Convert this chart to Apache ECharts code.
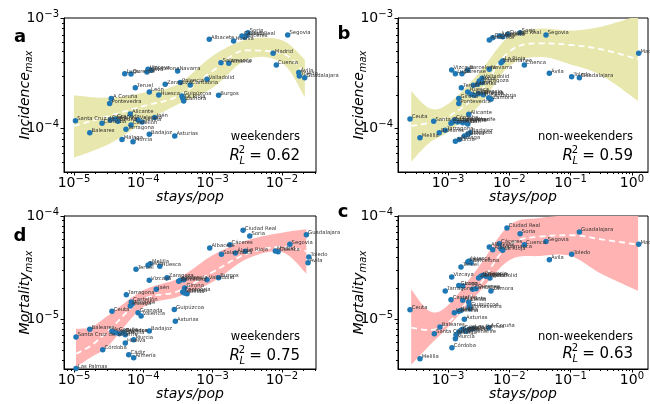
<!DOCTYPE html>
<html>
<head>
<meta charset="utf-8">
<script src="https://cdn.jsdelivr.net/npm/echarts@6.0.0/dist/echarts.min.js"></script>
<style>
  html, body { margin: 0; padding: 0; background: #fff; }
  #chart { width: 650px; height: 404px; }
</style>
</head>
<body>
<div id="chart"></div>
<script>
// ---- tick labels ----
const xTicksWk = [1e-5, 1e-4, 1e-3, 1e-2];
const xTicksNw = [1e-3, 1e-2, 1e-1, 1];
const yTicksInc = [1e-4, 1e-3];
const yTicksMor = [1e-5, 1e-4];

// ---- a: incidence, weekenders ----
const incWkNames = ['Santa Cruz de Tenerife','Baleares','A Coruña','Pontevedra','Lugo','Ourense','Teruel','Alicante','Castellón','Tarragona','Málaga','Murcia','Córdoba','Cádiz','Granada','Girona','Valencia','Sevilla','Jaén','Badajoz','Asturias','Zaragoza','León','Huesca','Guipúzcoa','Zamora','La Rioja','Palencia','Cantabria','Valladolid','Burgos','Navarra','Vizcaya','Barcelona','Álava','Albacete','Huelva','Ciudad Real','Cáceres','Lleida','Soria','Segovia','Madrid','Cuenca','Salamanca','Almería','Ávila','Toledo','Guadalajara'];
const incWkX = [1.05e-5,1.69e-5,3.45e-5,3.27e-5,5.4e-5,6.65e-5,7.67e-5,6.49e-5,6.65e-5,5.62e-5,4.93e-5,7.1e-5,2.54e-5,3.34e-5,3.94e-5,4.31e-5,8.4e-5,9.6e-5,1.46e-4,1.22e-4,2.84e-4,2.07e-4,1.22e-4,1.67e-4,3.61e-4,3.83e-4,3.71e-4,3.42e-4,4.76e-4,8.3e-4,1.22e-3,3.13e-4,1.17e-4,1.3e-4,1.13e-4,8.95e-4,2.01e-3,2.65e-3,2.9e-3,3.13e-3,3.24e-3,1.21e-2,7.45e-3,8.3e-3,1.32e-3,1.71e-3,1.75e-2,1.78e-2,2.13e-2];
const incWkY = [1.18e-4,9.2e-5,1.87e-4,1.69e-4,3.14e-4,3.12e-4,2.34e-4,1.36e-4,1.08e-4,9.9e-5,8.0e-5,7.6e-5,1.12e-4,1.2e-4,1.22e-4,1.17e-4,1.2e-4,1.15e-4,1.26e-4,8.9e-5,8.6e-5,2.52e-4,2.15e-4,2.01e-4,1.97e-4,1.78e-4,1.88e-4,2.61e-4,2.48e-4,2.79e-4,2.0e-4,3.32e-4,3.44e-4,3.37e-4,3.25e-4,6.42e-4,6.19e-4,6.87e-4,6.7e-4,6.98e-4,7.36e-4,7.02e-4,4.8e-4,3.76e-4,3.94e-4,3.9e-4,3.21e-4,2.99e-4,2.89e-4];
const incWkBandX = [1e-5, 3.16e-5, 1e-4, 3.16e-4, 1e-3, 3.16e-3, 1e-2, 2.14e-2];
const incWkHi = [2.0e-4, 1.9e-4, 2.11e-4, 2.52e-4, 4.54e-4, 6.41e-4, 6.3e-4, 4.2e-4];
const incWkLo = [5.47e-5, 7.23e-5, 1.13e-4, 1.66e-4, 2.34e-4, 4.24e-4, 3.94e-4, 1.92e-4];
const incWkFit = [1.06e-4, 1.3e-4, 1.6e-4, 1.97e-4, 3.32e-4, 5.1e-4, 4.8e-4, 3.1e-4];

// ---- b: incidence, non-weekenders ----
const incNwNames = ['Ceuta','Melilla','Santa Cruz de Tenerife','Baleares','Tarragona','Castellón','Cádiz','Córdoba','Las Palmas','Alicante','Murcia','Málaga','Huelva','Granada','Badajoz','Valencia','Sevilla','Jaén','Pontevedra','Girona','Teruel','Huesca','Lleida','Guipúzcoa','Palencia','Burgos','Cantabria','Zamora','Valladolid','Álava','León','Zaragoza','Asturias','Vizcaya','Lugo','Ourense','Barcelona','Navarra','Salamanca','La Rioja','Cuenca','Ávila','Toledo','Guadalajara','Madrid','Segovia','Soria','Albacete','Cáceres','A Coruña','Almería','Ciudad Real'];
const incNwX = [2.4e-4,3.49e-4,5.85e-4,7.2e-4,9.0e-4,1.12e-3,1.19e-3,1.27e-3,1.44e-3,2.18e-3,1.32e-3,1.53e-3,1.85e-3,2.1e-3,2.28e-3,1.74e-3,1.97e-3,2.1e-3,1.5e-3,1.5e-3,1.65e-3,2.1e-3,2.37e-3,2.69e-3,3.16e-3,3.76e-3,4.61e-3,5.02e-3,3.59e-3,3.24e-3,3.05e-3,3.59e-3,2.59e-3,1.15e-3,1.32e-3,1.69e-3,2.1e-3,4.72e-3,7.33e-3,7.8e-3,1.76e-2,4.5e-2,0.104,0.139,1.29,3.97e-2,1.5e-2,4.72e-3,5.36e-3,6.87e-3,7.8e-3,9.4e-3];
const incNwY = [1.22e-4,8.3e-5,1.17e-4,9.2e-5,9.7e-5,1.12e-4,1.15e-4,1.2e-4,1.15e-4,1.35e-4,7.7e-5,8.0e-5,8.6e-5,8.9e-5,9.2e-5,1.13e-4,1.15e-4,1.1e-4,1.69e-4,1.87e-4,2.34e-4,2.15e-4,2.05e-4,2.0e-4,2.07e-4,2.03e-4,1.9e-4,1.84e-4,2.85e-4,2.7e-4,2.52e-4,2.61e-4,2.47e-4,3.39e-4,3.14e-4,3.14e-4,3.39e-4,3.44e-4,3.94e-4,4.09e-4,3.76e-4,3.16e-4,2.95e-4,2.89e-4,4.8e-4,7.02e-4,7.36e-4,6.33e-4,6.64e-4,6.87e-4,6.78e-4,7.13e-4];
const incNwBandX = [2.51e-4, 5.01e-4, 1e-3, 3.16e-3, 1e-2, 3.16e-2, 0.1, 0.316, 1.26];
const incNwHi = [2.19e-4, 1.53e-4, 1.67e-4, 3.16e-4, 6.87e-4, 8.01e-4, 7.69e-4, 8.35e-4, 1.05e-3];
const incNwLo = [5.04e-5, 7.48e-5, 9.33e-5, 1.6e-4, 3.68e-4, 4.45e-4, 3.81e-4, 3.03e-4, 1.78e-4];
const incNwFit = [1.06e-4, 1.13e-4, 1.28e-4, 2.09e-4, 4.97e-4, 5.9e-4, 5.7e-4, 5.21e-4, 4.24e-4];

// ---- d: mortality, weekenders ----
const morWkNames = ['Las Palmas','Santa Cruz de Tenerife','Baleares','Córdoba','Ceuta','A Coruña','Pontevedra','Lugo','Ourense','Sevilla','Huelva','Murcia','Cádiz','Almería','Badajoz','Granada','Valencia','Guipúzcoa','Asturias','Tarragona','Castellón','Alicante','Málaga','Jaén','Girona','Cantabria','Zamora','Lleida','Vizcaya','Zaragoza','Barcelona','Navarra','Palencia','Valladolid','Burgos','Teruel','León','Melilla','Huesca','Albacete','Salamanca','Cáceres','Álava','La Rioja','Ciudad Real','Soria','Madrid','Cuenca','Segovia','Guadalajara','Toledo','Ávila'];
const morWkX = [1.07e-5,1.07e-5,1.69e-5,2.6e-5,3.53e-5,3.53e-5,3.94e-5,4.51e-5,5.21e-5,5.5e-5,5.5e-5,7.26e-5,6.16e-5,7.26e-5,1.22e-4,8.4e-5,9.3e-5,2.8e-4,2.9e-4,5.69e-5,6.71e-5,6.87e-5,6.49e-5,1.54e-4,3.95e-4,3.71e-4,3.95e-4,4.28e-4,1.22e-4,2.2e-4,3.24e-4,3.42e-4,3.83e-4,8.3e-4,1.22e-3,7.85e-5,1.17e-4,1.26e-4,1.73e-4,9.08e-4,1.34e-3,1.77e-3,2.13e-3,2.96e-3,2.75e-3,3.43e-3,8.03e-3,8.8e-3,1.3e-2,2.25e-2,2.44e-2,2.38e-2];
const morWkY = [3.3e-6,6.68e-6,7.94e-6,5.04e-6,1.19e-5,7.6e-6,7.36e-6,7.19e-6,7.36e-6,7.05e-6,5.85e-6,6.3e-6,4.5e-6,4.2e-6,7.64e-6,1.15e-5,1.07e-5,1.24e-5,9.5e-6,1.72e-5,1.46e-5,1.39e-5,1.34e-5,1.94e-5,2.0e-5,1.83e-5,1.79e-5,1.76e-5,2.38e-5,2.52e-5,2.32e-5,2.38e-5,2.41e-5,2.41e-5,2.52e-5,3.04e-5,3.32e-5,3.44e-5,3.25e-5,4.89e-5,4.25e-5,5.26e-5,4.38e-5,4.54e-5,7.26e-5,6.4e-5,4.57e-5,4.5e-5,5.31e-5,6.58e-5,4.0e-5,3.52e-5];
const morWkBandX = [1.07e-5, 1.78e-5, 3.16e-5, 1e-4, 3.16e-4, 1e-3, 3.16e-3, 1e-2, 2.25e-2];
const morWkHi = [8.05e-6, 8.36e-6, 1.09e-5, 1.9e-5, 2.47e-5, 4.15e-5, 5.81e-5, 6.89e-5, 7.43e-5];
const morWkLo = [3.42e-6, 4.28e-6, 5.55e-6, 1.31e-5, 1.64e-5, 2.29e-5, 3.85e-5, 4.47e-5, 2.75e-5];
const morWkFit = [4.6e-6, 5.55e-6, 7.76e-6, 1.55e-5, 1.86e-5, 2.86e-5, 4.3e-5, 5.0e-5, 4.57e-5];

// ---- c: mortality, non-weekenders ----
const morNwNames = ['Ceuta','Melilla','Santa Cruz de Tenerife','Baleares','Córdoba','Murcia','Málaga','Huelva','Granada','Cádiz','Almería','Badajoz','Las Palmas','A Coruña','Asturias','Valencia','Sevilla','Jaén','Guipúzcoa','Pontevedra','Castellón','Alicante','Lleida','Tarragona','Girona','Lugo','Cantabria','Ourense','Zamora','Vizcaya','Zaragoza','Burgos','Palencia','Navarra','Valladolid','Teruel','León','Huesca','Barcelona','Albacete','Álava','Cáceres','Salamanca','La Rioja','Ciudad Real','Soria','Cuenca','Segovia','Guadalajara','Toledo','Ávila','Madrid'];
const morNwX = [2.4e-4,3.49e-4,5.98e-4,7.4e-4,1.16e-3,1.32e-3,1.35e-3,1.5e-3,1.63e-3,1.74e-3,1.97e-3,2.22e-3,2.59e-3,4.61e-3,1.85e-3,1.27e-3,1.5e-3,1.63e-3,2.22e-3,2.28e-3,1.12e-3,1.74e-3,2.18e-3,9.03e-4,1.5e-3,1.74e-3,2.53e-3,2.86e-3,5.02e-3,1.15e-3,3.16e-3,3.45e-3,3.76e-3,4.17e-3,4.84e-3,1.63e-3,2.1e-3,2.22e-3,2.37e-3,4.72e-3,5.36e-3,6.87e-3,7.33e-3,7.8e-3,9.16e-3,1.5e-2,1.76e-2,3.97e-2,0.139,0.104,4.5e-2,1.29];
const morNwY = [1.23e-5,4.12e-6,7.19e-6,8.36e-6,5.26e-6,6.44e-6,7.05e-6,7.48e-6,7.76e-6,7.94e-6,7.6e-6,7.94e-6,8.05e-6,8.24e-6,9.93e-6,1.15e-5,1.19e-5,1.21e-5,1.33e-5,1.26e-5,1.54e-5,1.52e-5,1.46e-5,1.87e-5,2.12e-5,2.09e-5,1.94e-5,1.97e-5,1.87e-5,2.56e-5,2.5e-5,2.6e-5,2.66e-5,2.6e-5,2.5e-5,3.2e-5,3.57e-5,3.66e-5,3.52e-5,5.0e-5,4.71e-5,5.38e-5,4.82e-5,4.65e-5,7.64e-5,6.73e-5,5.26e-5,5.67e-5,7.0e-5,4.25e-5,3.76e-5,5.31e-5];
const morNwBandX = [2.51e-4, 5.01e-4, 1e-3, 3.16e-3, 1e-2, 3.16e-2, 0.1, 0.316, 1.26];
const morNwHi = [1.94e-5, 1.19e-5, 1.36e-5, 3.2e-5, 8.13e-5, 9.57e-5, 1.02e-4, 1.1e-4, 1.2e-4];
const morNwLo = [3.6e-6, 5.55e-6, 8.36e-6, 1.8e-5, 3.72e-5, 4.09e-5, 4.09e-5, 2.75e-5, 1.88e-5];
const morNwFit = [8.24e-6, 7.82e-6, 9.14e-6, 2.09e-5, 5.19e-5, 6.31e-5, 6.5e-5, 5.94e-5, 5.26e-5];

const FONT = 'DejaVu Sans';
const BLUE = '#1f77b4';
const KHAKI = '#e8e7ad';
const PINK = '#ffb3b3';

function fmtPow(v) {
  const e = Math.round(Math.log10(v));
  return '{b|10}{e|' + (e < 0 ? '\u2212' + (-e) : String(e)) + '}';
}
const tickRich = {
  b: { fontSize: 14, lineHeight: 18, fontFamily: FONT, color: '#000' },
  e: { fontSize: 10, lineHeight: 8, verticalAlign: 'top', fontFamily: FONT, color: '#000' }
};

const panels = [
  { grid: { left: 64, top: 18, width: 252, height: 154 }, xr: [7.18e-6, 3.1e-2], yr: [4.06e-5, 1e-3],
    xt: xTicksWk, yt: yTicksInc, yName: 'Incidence', color: KHAKI,
    names: incWkNames, xs: incWkX, ys: incWkY, bx: incWkBandX, hi: incWkHi, lo: incWkLo, fit: incWkFit },
  { grid: { left: 398, top: 18, width: 250, height: 154 }, xr: [1.53e-4, 1.83], yr: [4.06e-5, 1e-3],
    xt: xTicksNw, yt: yTicksInc, yName: 'Incidence', color: KHAKI,
    names: incNwNames, xs: incNwX, ys: incNwY, bx: incNwBandX, hi: incNwHi, lo: incNwLo, fit: incNwFit },
  { grid: { left: 64, top: 216, width: 252, height: 153 }, xr: [7.18e-6, 3.1e-2], yr: [3.27e-6, 1e-4],
    xt: xTicksWk, yt: yTicksMor, yName: 'Mortality', color: PINK,
    names: morWkNames, xs: morWkX, ys: morWkY, bx: morWkBandX, hi: morWkHi, lo: morWkLo, fit: morWkFit },
  { grid: { left: 398, top: 216, width: 250, height: 153 }, xr: [1.53e-4, 1.83], yr: [3.27e-6, 1e-4],
    xt: xTicksNw, yt: yTicksMor, yName: 'Mortality', color: PINK,
    names: morNwNames, xs: morNwX, ys: morNwY, bx: morNwBandX, hi: morNwHi, lo: morNwLo, fit: morNwFit }
];

// smooth a pixel polyline (catmull-rom) so the band edges are curved, not angular
function curvePx(pts) {
  const out = [];
  const n = pts.length;
  for (let i = 0; i < n - 1; i++) {
    const p0 = pts[Math.max(i - 1, 0)], p1 = pts[i], p2 = pts[i + 1], p3 = pts[Math.min(i + 2, n - 1)];
    for (let s = 0; s < 12; s++) {
      const t = s / 12, t2 = t * t, t3 = t2 * t;
      out.push([0, 1].map(d => 0.5 * (2 * p1[d] + (p2[d] - p0[d]) * t +
        (2 * p0[d] - 5 * p1[d] + 4 * p2[d] - p3[d]) * t2 + (3 * p1[d] - p0[d] - 3 * p2[d] + p3[d]) * t3)));
    }
  }
  out.push(pts[n - 1]);
  return out;
}

// band drawn as one filled polygon: upper edge left->right, lower edge right->left
function bandRenderer(p) {
  return function (params, api) {
    const upper = curvePx(p.bx.map((x, k) => api.coord([x, p.hi[k]])));
    const lower = curvePx(p.bx.map((x, k) => api.coord([x, p.lo[k]]))).reverse();
    return {
      type: 'polygon',
      shape: { points: upper.concat(lower) },
      style: { fill: p.color, stroke: null },
      silent: true
    };
  };
}

const grids = [], xAxes = [], yAxes = [], series = [];
panels.forEach((p, i) => {
  grids.push(Object.assign({ show: true, borderColor: '#000', borderWidth: 1, backgroundColor: 'transparent',
    containLabel: false, outerBoundsMode: 'none' }, p.grid));
  xAxes.push({
    type: 'log', logBase: 10, gridIndex: i, min: p.xr[0], max: p.xr[1],
    name: 'stays/pop', nameLocation: 'middle', nameGap: 18, nameMoveOverlap: false,
    nameTextStyle: { fontFamily: FONT, fontStyle: 'italic', fontSize: 14, color: '#000' },
    axisLine: { show: true, lineStyle: { color: '#000', width: 1 } },
    axisTick: { show: true, length: 3.5, customValues: p.xt, lineStyle: { color: '#000' } },
    minorTick: { show: true, splitNumber: 9, length: 2, lineStyle: { color: '#000' } },
    axisLabel: { customValues: p.xt, formatter: fmtPow, rich: tickRich, margin: 2 },
    splitLine: { show: false }, minorSplitLine: { show: false }
  });
  yAxes.push({
    type: 'log', logBase: 10, gridIndex: i, min: p.yr[0], max: p.yr[1],
    name: '{a|' + p.yName + '}{s|max}', nameLocation: 'middle', nameGap: 30, nameRotate: 90, nameMoveOverlap: false,
    nameTextStyle: { rich: {
      a: { fontFamily: FONT, fontStyle: 'italic', fontSize: 14, lineHeight: 18, color: '#000' },
      s: { fontFamily: FONT, fontStyle: 'italic', fontSize: 10, lineHeight: 8, verticalAlign: 'bottom', color: '#000' }
    } },
    axisLine: { show: true, lineStyle: { color: '#000', width: 1 } },
    axisTick: { show: true, length: 3.5, customValues: p.yt, lineStyle: { color: '#000' } },
    minorTick: { show: true, splitNumber: 9, length: 2, lineStyle: { color: '#000' } },
    axisLabel: { customValues: p.yt, formatter: fmtPow, rich: tickRich, margin: 5 },
    splitLine: { show: false }, minorSplitLine: { show: false }
  });
  series.push({
    type: 'custom', xAxisIndex: i, yAxisIndex: i, clip: true, z: 1, silent: true,
    renderItem: bandRenderer(p),
    data: [[p.bx[0], p.fit[0]]]
  });
  series.push({
    type: 'line', xAxisIndex: i, yAxisIndex: i, smooth: 0.4, symbol: 'none', silent: true,
    lineStyle: { color: '#fff', width: 1.8, type: [6, 4] },
    data: p.bx.map((x, k) => [x, p.fit[k]]), z: 2
  });
  series.push({
    type: 'scatter', xAxisIndex: i, yAxisIndex: i, symbolSize: 5.5, z: 3,
    itemStyle: { color: BLUE, opacity: 1 },
    label: { show: true, position: 'right', distance: 0, offset: [-1, -2], formatter: '{b}',
      fontSize: 5.3, fontFamily: FONT, color: '#333' },
    data: p.names.map((n, k) => ({ name: n, value: [p.xs[k], p.ys[k]] }))
  });
});

function txt(x, y, text, font, align) {
  return { type: 'text', x: x, y: y, silent: true,
    style: { text: text, font: font, fill: '#000', textAlign: align || 'left', align: align || 'left',
      textVerticalAlign: 'middle', verticalAlign: 'middle' } };
}
function stats(xr, yWord, yR, word, r2) {
  return [
    txt(xr, yWord, word, '11.5px "DejaVu Sans"', 'right'),
    txt(xr, yR, '= ' + r2, '15px "DejaVu Sans"', 'right'),
    txt(xr - 55, yR - 6, '2', '10px "DejaVu Sans"', 'right'),
    txt(xr - 55, yR + 5, 'L', 'italic 10px "DejaVu Sans"', 'right'),
    txt(xr - 60, yR, 'R', 'italic 15px "DejaVu Sans"', 'right')
  ];
}

const graphics = [
  txt(20, 37, 'a', 'bold 18px "DejaVu Sans"', 'center'),
  txt(344, 34, 'b', 'bold 18px "DejaVu Sans"', 'center'),
  txt(20, 236, 'd', 'bold 18px "DejaVu Sans"', 'center'),
  txt(343, 212, 'c', 'bold 18px "DejaVu Sans"', 'center')
].concat(
  stats(300, 137, 156, 'weekenders', '0.62'),
  stats(633, 137, 156, 'non-weekenders', '0.59'),
  stats(300, 337, 356, 'weekenders', '0.75'),
  stats(633, 337, 354, 'non-weekenders', '0.63')
);

const chart = echarts.init(document.getElementById('chart'), null, { renderer: 'canvas' });
chart.setOption({
  animation: false,
  backgroundColor: '#fff',
  textStyle: { fontFamily: FONT },
  grid: grids,
  xAxis: xAxes,
  yAxis: yAxes,
  series: series,
  graphic: graphics
});
</script>
</body>
</html>
